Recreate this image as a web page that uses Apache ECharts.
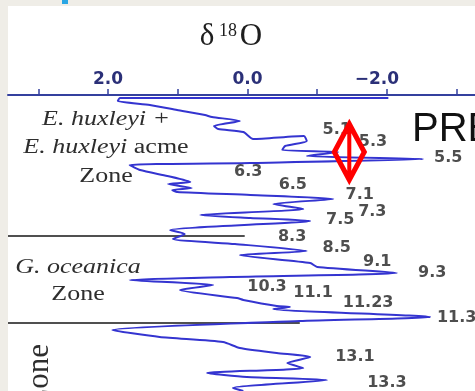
<!DOCTYPE html>
<html>
<head>
<meta charset="utf-8">
<script src="https://cdn.jsdelivr.net/npm/echarts@6/dist/echarts.min.js"></script>
<style>
  html, body { margin: 0; padding: 0; background: #efede7; }
  #panel { position: absolute; left: 8px; top: 6px; width: 467px; height: 385px; background: #ffffff; }
  #chip { position: absolute; left: 62px; top: 0; width: 6px; height: 4px; background: #2aa6e4; }
  #chart { position: absolute; left: 0; top: 0; width: 475px; height: 391px; }
</style>
</head>
<body>
<div id="panel"></div>
<div id="chip"></div>
<div id="chart"></div>
<script>
// δ18O axis ticks and labelled values (per mil)
const deltaTicks = [3, 2, 1, 0, -1, -2, -3];
const deltaLabels = [2, 0, -2];

// Isotope record: δ18O against depth down the core (depth units grow downward)
const curveDelta = [
  -2.02, 1.83, 1.86, 1.40, 1.01, 0.61, 0.51, 0.11, 0.48, 0.42,
  0.06, -0.08, -0.81, -0.85, -0.54, -0.50, -1.30, -0.85, -2.52, -0.04,
  1.69, 1.54, 1.15, 0.82, 1.14, 0.80, 1.08, 1.01, -0.04, -1.23,
  -0.37, -0.80, 0.68, -0.04, -0.90, 1.11, 0.90, 1.07, 0.18, -0.85,
  0.11, -0.90, -1.00, -2.14, 0.25, 1.69, 0.49, 0.97, 0.15, 0.06,
  -0.42, -0.61, -0.37, -2.62, -0.75, 1.94, 1.26, 0.35, 0.11, -0.42,
  -0.90, -0.57, -0.80, 0.58, 0.01, -1.14, 0.21, 0.06
];
const curveDepth = [
  3, 3, 6, 10, 15, 20, 22, 26, 31, 34,
  37, 44, 41, 46, 51, 55, 57, 61, 64, 68,
  70, 75, 81, 87, 89, 93, 95, 97, 100, 104,
  109, 114, 120, 123, 126, 135, 139, 144, 149, 156,
  160, 168, 172, 178, 182, 185, 190, 195, 203, 205,
  211, 212, 214, 222, 226, 235, 242, 247, 253, 258,
  262, 268, 273, 278, 282, 285, 293, 296
];

// Marine isotope stage tags beside the peaks
const stageNames = ['5.1', '5.3', '5.5', '6.3', '6.5', '7.1', '7.3', '7.5', '8.3', '8.5',
  '9.1', '9.3', '10.3', '11.1', '11.23', '11.3', '13.1', '13.3'];
const stageDelta = [-1.28, -1.80, -2.88, -0.01, -0.65, -1.61, -1.79, -1.33, -0.64, -1.28,
  -1.86, -2.65, -0.28, -0.94, -1.73, -3.00, -1.54, -2.00];
const stageDepth = [35, 47, 63, 77, 90, 100, 117, 125, 142, 153,
  167, 178, 192, 198, 208, 223, 262, 288];

// Nannofossil zone boundaries: [δ18O start, δ18O end] at a depth
const zoneBoundaryDelta = [[3.435, 0.04], [3.435, -0.75]];
const zoneBoundaryDepth = [141, 228];

// Marker placed on the record
const markerDelta = [-1.46];
const markerDepth = [57];

const chart = echarts.init(document.getElementById('chart'), null, { renderer: 'canvas' });

const curve = curveDelta.map((d, i) => [d, curveDepth[i]]);
const stages = stageNames.map((n, i) => ({ name: n, value: [stageDelta[i], stageDepth[i]] }));
const boundarySeries = zoneBoundaryDelta.map((pair, i) => ({
  type: 'line',
  data: pair.map(d => [d, zoneBoundaryDepth[i]]),
  showSymbol: false,
  silent: true,
  z: 1,
  lineStyle: { color: '#505050', width: 2.2 }
}));

const serif = '"Liberation Serif", "DejaVu Serif", serif';

function txt(x, y, text, opts) {
  return Object.assign({
    type: 'text', x: x, y: y, silent: true,
    style: Object.assign({
      text: text, align: 'center', verticalAlign: 'middle',
      textAlign: 'center', textVerticalAlign: 'middle',
      fill: '#2e2e2e', font: 'italic 20px ' + serif
    }, opts.style || {})
  }, opts.el || {});
}

chart.setOption({
  animation: false,
  backgroundColor: 'transparent',
  grid: { left: 8, right: 0, top: 95, bottom: 0, containLabel: false },
  xAxis: {
    type: 'value',
    position: 'top',
    min: -3.263,
    max: 3.435,
    inverse: true,
    splitLine: { show: false },
    axisLine: { show: true, lineStyle: { color: '#34409e', width: 2 } },
    axisTick: { show: true, customValues: deltaTicks, length: 6, lineStyle: { color: '#34409e', width: 1.5 } },
    axisLabel: {
      customValues: deltaLabels,
      margin: 7,
      color: '#2b3078',
      fontFamily: '"DejaVu Sans", sans-serif',
      fontWeight: 'bold',
      fontSize: 17,
      formatter: v => v < 0 ? '{n|\u2212' + Math.abs(v).toFixed(1) + '}' : v.toFixed(1),
      rich: { n: { padding: [0, 20, 0, 0], color: '#2b3078', fontFamily: '"DejaVu Sans", sans-serif', fontWeight: 'bold', fontSize: 17 } }
    }
  },
  yAxis: { type: 'value', min: 0, max: 296, inverse: true, show: false },
  series: [
    ...boundarySeries,
    {
      type: 'line',
      data: curve,
      showSymbol: false,
      silent: true,
      smooth: 0.2,
      z: 3,
      lineStyle: { color: '#3434d0', width: 2 }
    },
    {
      type: 'scatter',
      data: stages,
      symbolSize: 0,
      silent: true,
      z: 4,
      label: {
        show: true, position: 'inside', formatter: p => p.name,
        color: '#222222', fontFamily: '"DejaVu Sans", sans-serif', fontWeight: 'bold', fontSize: 16
      }
    },
    {
      type: 'scatter',
      data: markerDelta.map((d, i) => [d, markerDepth[i]]),
      symbol: 'path://M0,-30L17,0L0,30L-17,0Z M0,-30L0,30',
      symbolSize: [30, 56],
      silent: true,
      z: 6,
      itemStyle: { color: 'none', borderColor: '#ff0000', borderWidth: 5.5, opacity: 1 }
    }
  ],
  graphic: [
    // heading
    txt(207, 37, 'δ', { style: { font: '31px ' + serif, fill: '#1e1e1e' } }),
    txt(228, 31, '18', { style: { font: '18px ' + serif, fill: '#1e1e1e' } }),
    txt(251, 37, 'O', { style: { font: '31px ' + serif, fill: '#1e1e1e' } }),
    // zone names
    txt(106, 120, 'E. huxleyi +', { el: { scaleX: 1.3 } }),
    txt(106, 148, '', {
      el: { scaleX: 1.3 },
      style: {
        text: '{i|E. huxleyi} {r|acme}',
        rich: {
          i: { font: 'italic 20px ' + serif, fill: '#2e2e2e' },
          r: { font: '20px ' + serif, fill: '#2e2e2e' }
        }
      }
    }),
    txt(106, 177, 'Zone', { el: { scaleX: 1.3 }, style: { font: '20px ' + serif } }),
    txt(78, 268, 'G. oceanica', { el: { scaleX: 1.3 } }),
    txt(78, 295, 'Zone', { el: { scaleX: 1.3 }, style: { font: '20px ' + serif } }),
    txt(40, 344, 'Zone', {
      el: { rotation: Math.PI / 2 },
      style: { font: '31px ' + serif, align: 'right', textAlign: 'right' }
    }),
    // slide caption
    txt(412, 130, 'PRE', {
      style: { font: '40px "Liberation Sans", "Open Sans", sans-serif', fill: '#111111', align: 'left', textAlign: 'left' }
    })
  ]
});
</script>
</body>
</html>
